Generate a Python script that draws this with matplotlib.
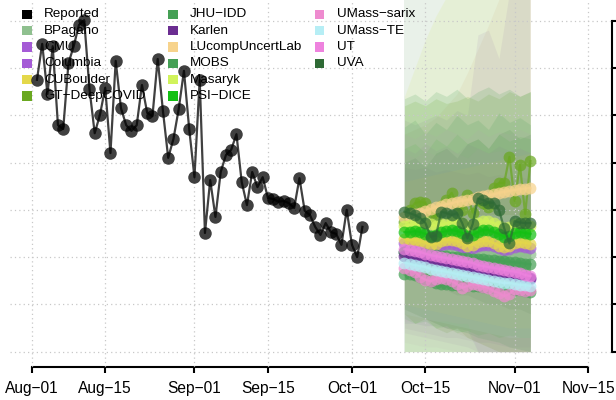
import matplotlib
matplotlib.use('Agg')
import matplotlib.pyplot as plt
from matplotlib.patches import Rectangle

plt.rcParams['font.family'] = ['Liberation Sans', 'DejaVu Sans']

# ---------------- data ----------------
tick_days = [0, 14, 31, 45, 61, 75, 92, 106]
tick_labels = ['Aug\u221201', 'Aug\u221215', 'Sep\u221201', 'Sep\u221215',
               'Oct\u221201', 'Oct\u221215', 'Nov\u221201', 'Nov\u221215']

report_days = list(range(1, 64))
report_vals = [5.75, 6.51, 5.45, 6.46, 4.79, 4.71, 6.10, 6.46, 6.91, 7.01,
               5.56, 4.62, 5.01, 5.58, 4.20, 6.15, 5.15, 4.79, 4.67, 4.79,
               5.64, 5.05, 4.98, 6.19, 5.09, 4.10, 4.50, 5.13, 5.94, 4.71,
               3.69, 5.75, 2.51, 3.63, 2.85, 3.80, 4.16, 4.27, 4.60, 3.59,
               3.10, 3.80, 3.48, 3.69, 3.25, 3.23, 3.17, 3.19, 3.14, 3.04,
               3.67, 2.98, 2.89, 2.64, 2.47, 2.72, 2.53, 2.49, 2.26, 3.00,
               2.26, 2.00, 2.64]

fc_days = list(range(71, 96))
bpagano = [2.11, 2.11, 2.10, 2.10, 2.09, 2.09, 2.10, 2.10, 2.09, 2.09, 2.08, 2.08, 2.09,
           2.09, 2.08, 2.08, 2.07, 2.07, 2.08, 2.08, 2.07, 2.07, 2.06, 2.06, 2.07]
cmu = [2.30, 2.30, 2.28, 2.26, 2.21, 2.17, 2.19, 2.26, 2.28, 2.28, 2.26, 2.21, 2.17,
       2.19, 2.24, 2.26, 2.26, 2.24, 2.19, 2.15, 2.17, 2.21, 2.24, 2.21, 2.19]
columbia = [2.11, 2.09, 2.07, 2.02, 2.00, 1.98, 1.96, 1.94, 1.92, 1.88, 1.86, 1.83, 1.81,
            1.79, 1.75, 1.73, 1.71, 1.69, 1.67, 1.64, 1.62, 1.60, 1.58, 1.56, 1.54]
cuboulder = [2.38, 2.36, 2.36, 2.34, 2.30, 2.26, 2.28, 2.34, 2.36, 2.36, 2.34, 2.30, 2.24,
             2.26, 2.32, 2.34, 2.34, 2.30, 2.24, 2.21, 2.24, 2.30, 2.32, 2.30, 2.28]
gt_deepcovid = [2.74, 3.00, 3.14, 3.17, 3.14, 2.96, 2.83, 3.08, 3.21, 3.36, 3.10, 3.00, 3.31,
                2.94, 3.21, 3.14, 3.06, 3.46, 3.57, 3.57, 4.12, 3.19, 3.95, 2.91, 4.03]
jhu_idd = [2.11, 2.10, 2.09, 2.08, 2.06, 2.05, 2.04, 2.03, 2.02, 2.01, 2.00, 1.99, 1.98,
           1.97, 1.96, 1.95, 1.94, 1.93, 1.92, 1.91, 1.90, 1.89, 1.88, 1.86, 1.85]
karlen = [2.02, 2.00, 1.99, 1.97, 1.95, 1.93, 1.91, 1.89, 1.87, 1.85, 1.83, 1.81, 1.79,
          1.77, 1.75, 1.73, 1.71, 1.69, 1.67, 1.65, 1.63, 1.61, 1.59, 1.57, 1.55]
lucomp = [2.85, 2.87, 2.91, 2.93, 2.98, 3.02, 3.06, 3.08, 3.12, 3.14, 3.17, 3.19, 3.21,
          3.23, 3.27, 3.29, 3.31, 3.33, 3.36, 3.38, 3.40, 3.42, 3.44, 3.45, 3.46]
mobs = [1.64, 1.64, 1.62, 1.58, 1.54, 1.50, 1.45, 1.43, 1.43, 1.41, 1.41, 1.41, 1.39,
        1.39, 1.39, 1.37, 1.37, 1.35, 1.35, 1.33, 1.33, 1.30, 1.30, 1.28, 1.26]
masaryk = [2.66, 2.68, 2.70, 2.72, 2.74, 2.70, 2.66, 2.68, 2.72, 2.74, 2.76, 2.72, 2.66,
           2.68, 2.72, 2.76, 2.76, 2.72, 2.66, 2.62, 2.64, 2.70, 2.72, 2.70, 2.66]
psi_dice = [2.53, 2.53, 2.55, 2.53, 2.49, 2.45, 2.47, 2.53, 2.55, 2.57, 2.55, 2.51, 2.45,
            2.47, 2.53, 2.57, 2.57, 2.53, 2.49, 2.43, 2.45, 2.51, 2.53, 2.51, 2.49]
umass_sarix = [1.77, 1.73, 1.69, 1.58, 1.52, 1.49, 1.54, 1.56, 1.54, 1.49, 1.43, 1.35, 1.39,
               1.43, 1.41, 1.37, 1.35, 1.28, 1.24, 1.18, 1.22, 1.33, 1.30, 1.28, 1.30]
umass_te = [1.88, 1.86, 1.83, 1.81, 1.79, 1.75, 1.73, 1.71, 1.69, 1.67, 1.64, 1.62, 1.60,
            1.58, 1.56, 1.54, 1.52, 1.49, 1.47, 1.45, 1.45, 1.43, 1.41, 1.41, 1.39]
ut = [2.17, 2.15, 2.13, 2.11, 2.07, 2.04, 2.02, 2.00, 1.98, 1.96, 1.94, 1.92, 1.90,
      1.88, 1.83, 1.81, 1.79, 1.77, 1.75, 1.73, 1.71, 1.69, 1.67, 1.62, 1.60]
uva = [2.96, 2.93, 2.89, 2.83, 2.72, 2.43, 2.45, 2.96, 2.93, 2.89, 2.93, 2.72, 2.40,
       2.70, 3.24, 3.21, 3.15, 3.15, 3.00, 2.61, 2.29, 2.76, 2.73, 2.72, 2.72]

# prediction-interval outlines (every second forecast day)
band_days = [71, 73, 75, 77, 79, 81, 83, 85, 87, 89, 91, 93, 95]
bpagano_lo = [0, 0, 0, 0, 0, 0, 0, 0, 0, 0, 0, 0, 0]
bpagano_hi = [7.6, 7.6, 7.6, 7.6, 7.6, 7.6, 7.6, 7.6, 7.6, 7.6, 7.6, 7.6, 7.6]
masaryk_lo = [0, 0, 0, 0, 0, 0, 0, 0, 0, 0, 0, 0, 0]
masaryk_hi = [5.4, 6.0, 6.6, 7.1, 7.5, 7.6, 7.6, 7.6, 7.6, 7.6, 7.6, 7.6, 7.6]
lucomp_lo = [0.9, 0.8, 0.7, 0.6, 0.5, 0.4, 0.3, 0.2, 0.1, 0, 0, 0, 0]
lucomp_hi = [4.6, 4.7, 4.8, 4.95, 5.2, 5.45, 5.9, 6.4, 6.9, 7.45, 7.6, 7.6, 7.6]
cmu_lo = [0.6, 0.6, 0.55, 0.55, 0.5, 0.5, 0.45, 0, 0, 0, 0, 0, 0]
cmu_hi = [4.9, 4.8, 4.9, 5.0, 4.9, 5.1, 5.0, 6.7, 6.8, 6.2, 7.6, 7.6, 7.6]
gt_lo = [0.8, 0.6, 0.7, 0.5, 0.4, 0.5, 0.3, 0.2, 0.1, 0, 0, 0, 0]
gt_hi = [5.2, 5.3, 5.2, 5.35, 5.25, 5.3, 5.4, 5.3, 5.45, 5.35, 5.5, 5.4, 5.5]
jhu_lo = [0.9, 0.8, 0.7, 0.6, 0.5, 0.45, 0.4, 0.3, 0.25, 0.2, 0.1, 0.05, 0]
jhu_hi = [5.35, 5.45, 5.3, 5.5, 5.4, 5.55, 5.35, 5.5, 5.6, 5.45, 5.55, 5.4, 5.5]
mobs_lo = [0, 0, 0, 0, 0, 0, 0, 0, 0, 0, 0, 0, 0]
mobs_hi = [4.75, 4.9, 4.6, 4.85, 4.7, 5.0, 4.8, 4.9, 4.7, 5.05, 4.85, 4.95, 4.8]
psi_lo = [0.7, 0.6, 0.65, 0.5, 0.55, 0.4, 0.45, 0.35, 0.4, 0.3, 0.35, 0.3, 0.3]
psi_hi = [4.3, 4.4, 4.2, 4.5, 4.35, 4.6, 4.4, 4.5, 4.3, 4.6, 4.45, 4.55, 4.5]
uva_lo = [1.6, 1.5, 1.4, 1.35, 1.3, 1.2, 1.2, 1.1, 1.0, 1.0, 0.9, 0.9, 0.8]
uva_hi = [4.0, 4.1, 3.9, 4.2, 4.3, 4.1, 4.4, 4.5, 4.3, 4.6, 4.7, 4.5, 4.6]
cub_lo = [1.0, 0.95, 0.9, 0.85, 0.8, 0.75, 0.7, 0.65, 0.6, 0.55, 0.5, 0.5, 0.5]
cub_hi = [3.6, 3.65, 3.7, 3.75, 3.8, 3.85, 3.9, 3.95, 4.0, 4.05, 4.1, 4.15, 4.2]
columbia_lo = [0.4, 0.35, 0.3, 0.25, 0.2, 0.15, 0.1, 0, 0, 0, 0, 0, 0]
columbia_hi = [4.3, 4.2, 4.4, 4.25, 4.35, 4.2, 4.4, 4.3, 4.2, 4.35, 4.25, 4.3, 4.2]
karlen_lo = [0.5, 0.45, 0.4, 0.35, 0.3, 0.3, 0.25, 0.2, 0.2, 0.15, 0.1, 0.1, 0.1]
karlen_hi = [3.9, 3.85, 3.9, 3.8, 3.85, 3.8, 3.75, 3.8, 3.7, 3.75, 3.7, 3.7, 3.65]
sarix_lo = [0.65, 0.65, 0.65, 0.65, 0.65, 0.6, 0.6, 0, 0, 0, 0, 0, 0]
sarix_hi = [4.6, 4.5, 4.65, 4.55, 4.7, 4.6, 4.5, 4.7, 4.55, 4.65, 4.6, 4.7, 4.6]
ut_lo = [0.2, 0.15, 0.1, 0.1, 0.05, 0, 0, 0, 0, 0, 0, 0, 0]
ut_hi = [4.2, 4.1, 4.25, 4.15, 4.3, 4.2, 4.1, 4.3, 4.2, 4.25, 4.15, 4.3, 4.2]
te_lo = [0.8, 0.75, 0.7, 0.65, 0.6, 0.55, 0.5, 0.45, 0.4, 0.35, 0.3, 0.3, 0.3]
te_hi = [3.0, 3.0, 2.95, 2.95, 2.95, 2.9, 2.9, 2.9, 2.9, 2.9, 2.9, 2.9, 2.9]

# ---------------- styling ----------------
names = ['Reported', 'BPagano', 'CMU', 'Columbia', 'CUBoulder', 'GT\u2212DeepCOVID',
         'JHU\u2212IDD', 'Karlen', 'LUcompUncertLab', 'MOBS', 'Masaryk', 'PSI\u2212DICE',
         'UMass\u2212sarix', 'UMass\u2212TE', 'UT', 'UVA']
colors = ['#000000', '#8fc08f', '#a55bd6', '#a55bd6', '#e4d84a', '#6aa820',
          '#45a055', '#6b2d91', '#f7d38c', '#45a055', '#d1f35b', '#13c013',
          '#ee8bcf', '#b6eef5', '#ee82de', '#2e6a35']
series = [bpagano, cmu, columbia, cuboulder, gt_deepcovid, jhu_idd, karlen, lucomp,
          mobs, masaryk, psi_dice, umass_sarix, umass_te, ut, uva]

W, H = 616, 400
fig = plt.figure(figsize=(W / 100, H / 100), dpi=100)
ax = fig.add_axes([9.5 / W, (H - 366.7) / H, 602.2 / W, 366.7 / H])
ax.set_xlim(-4.23, 110.48)
ax.set_ylim(-0.317, 7.437)

# bands
bands = [
    (bpagano_lo, bpagano_hi, '#9cc09c', 0.22),
    (masaryk_lo, masaryk_hi, '#d8ea80', 0.18),
    (lucomp_lo, lucomp_hi, '#d8c8a0', 0.20),
    (cmu_lo, cmu_hi, '#a088b0', 0.13),
    (gt_lo, gt_hi, '#6aa820', 0.15),
    (jhu_lo, jhu_hi, '#45a055', 0.17),
    (mobs_lo, mobs_hi, '#45a055', 0.15),
    (columbia_lo, columbia_hi, '#9a7aa8', 0.09),
    (karlen_lo, karlen_hi, '#7a6a88', 0.07),
    (psi_lo, psi_hi, '#13c013', 0.09),
    (uva_lo, uva_hi, '#2e6a35', 0.10),
    (cub_lo, cub_hi, '#e4d84a', 0.08),
    (sarix_lo, sarix_hi, '#c098b8', 0.09),
    (ut_lo, ut_hi, '#b898b0', 0.07),
    (te_lo, te_hi, '#b6d8d5', 0.12),
]
for lo, hi, c, a in bands:
    ax.fill_between(band_days, lo, hi, color=c, alpha=a, linewidth=0, zorder=1)

# grid
ax.set_xticks(tick_days)
ax.set_xticklabels(tick_labels)
ax.set_yticks(list(range(0, 8)))
ax.grid(True, color='#c8c8c8', linestyle=(0, (1, 2.5)), linewidth=0.9, zorder=2)
ax.set_axisbelow(False)
for gl in ax.get_xgridlines() + ax.get_ygridlines():
    gl.set_zorder(2)

# reported
ax.plot(report_days, report_vals, color='#000000', alpha=0.75, lw=1.6,
        marker='o', markersize=9, markeredgewidth=0, zorder=4)

# forecasts
for i, (vals, c) in enumerate(zip(series, colors[1:])):
    ax.plot(fc_days, vals, color=c, alpha=0.72, lw=1.6, marker='o',
            markersize=8.5, markeredgewidth=0, zorder=4 + i * 0.01)

# axes
for s in ['left', 'top']:
    ax.spines[s].set_visible(False)
ax.spines['bottom'].set_bounds(0, 106)
ax.spines['right'].set_bounds(0, 7)
ax.spines['bottom'].set_linewidth(1.5)
ax.spines['right'].set_linewidth(1.5)
ax.yaxis.tick_right()
ax.tick_params(axis='y', which='both', right=True, left=False, labelright=False,
               labelleft=False, length=4, width=1.5, direction='out')
ax.tick_params(axis='x', length=4, width=1.5, direction='out', pad=6,
               labelsize=11.2)

# legend drawn manually (uniform column widths)
col_sq_x = [22.3, 168.3, 315.0]
col_tx_x = [44.3, 190.0, 336.7]
row_y0, row_dy = 14.3, 16.35
sq = 9.4
for k, (nm, c) in enumerate(zip(names, colors)):
    col, row = k // 6, k % 6
    yc = row_y0 + row * row_dy
    ax.add_patch(Rectangle((col_sq_x[col] / W, 1 - (yc + sq / 2) / H), sq / W, sq / H,
                           transform=fig.transFigure, facecolor=c, edgecolor='none',
                           zorder=3, clip_on=False))
    ax.text(col_tx_x[col] / W, 1 - yc / H, nm, transform=fig.transFigure,
            fontsize=9.7, va='center', ha='left', zorder=3)

fig.savefig('out.png', dpi=100)
